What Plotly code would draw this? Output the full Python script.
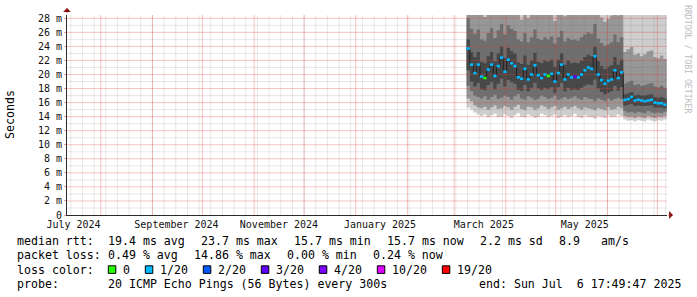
import plotly.graph_objects as go
import pandas as pd

# ---------------- data ----------------
end_time = "2025-07-06 17:49:47"
span_days = 360
y_max = 28.47

step_start = "2025-03-08 12:00"
step_freq = "2D"

median_ms = [23.7, 21.4, 20.2, 21.4, 19.7, 19.5, 20.7, 21.4, 19.8, 21.2,
             22.4, 20.4, 22.1, 21.6, 21.2, 19.6, 19.4, 20.8, 19.3, 20.0,
             21.3, 19.9, 19.5, 20.0, 19.8, 20.1, 19.0, 20.2, 21.4, 19.3,
             20.0, 19.6, 19.7, 19.6, 20.0, 20.6, 21.0, 20.8, 22.6, 20.0,
             19.2, 18.7, 19.1, 19.3, 20.6, 19.5, 20.3,
             16.4, 16.5, 16.8, 16.3, 16.4, 16.3, 16.2, 16.3, 16.4, 16.0, 15.9, 15.9, 15.7]
loss_count = [1, 1, 1, 1, 1, 0, 1, 1, 1, 1,
              1, 1, 1, 1, 1, 1, 1, 1, 1, 1,
              1, 1, 1, 1, 0, 1, 1, 1, 1, 1,
              1, 1, 3, 1, 1, 1, 1, 1, 1, 1,
              1, 1, 1, 1, 1, 1, 1,
              1, 1, 1, 1, 1, 1, 1, 1, 1, 1, 1, 1, 1]
ping01_ms = [15.3, 15.0, 14.6, 14.3, 14.1, 14.3, 13.9, 14.2, 14.4, 13.9,
             14.0, 14.3, 14.1, 13.8, 14.2, 14.5, 14.0, 13.9, 14.3, 14.1,
             13.8, 14.0, 14.4, 14.2, 13.9, 14.1, 14.3, 13.8, 14.0, 14.2,
             13.9, 14.1, 14.4, 14.0, 13.8, 14.2, 14.0, 13.9, 13.7, 14.1,
             14.0, 13.8, 14.2, 13.9, 14.0, 14.3, 14.1,
             13.6, 13.4, 13.5, 13.3, 13.5, 13.4, 13.3, 13.6, 13.4, 13.3, 13.5, 13.4, 13.6]
ping03_ms = [16.6, 16.2, 15.6, 15.3, 15.2, 15.4, 15.0, 15.3, 15.6, 15.1,
             15.2, 15.5, 15.3, 15.0, 15.4, 15.7, 15.1, 15.0, 15.4, 15.3,
             15.0, 15.2, 15.6, 15.4, 15.1, 15.3, 15.5, 15.0, 15.2, 15.4,
             15.1, 15.3, 15.5, 15.2, 15.0, 15.3, 15.2, 15.1, 14.9, 15.2,
             15.1, 14.9, 15.3, 15.0, 15.1, 15.4, 15.2,
             14.1, 13.9, 14.0, 13.8, 14.0, 13.9, 13.8, 14.1, 13.9, 13.8, 14.0, 13.9, 14.1]
ping06_ms = [18.4, 17.6, 17.0, 16.8, 16.6, 16.9, 16.4, 16.8, 17.1, 16.5,
             16.7, 17.0, 16.8, 16.4, 16.9, 17.2, 16.6, 16.4, 16.9, 16.7,
             16.4, 16.6, 17.0, 16.8, 16.5, 16.7, 17.0, 16.4, 16.6, 16.8,
             16.5, 16.7, 16.9, 16.6, 16.4, 16.8, 16.6, 16.5, 16.2, 16.6,
             16.4, 16.2, 16.6, 16.3, 16.5, 16.7, 16.5,
             14.8, 14.6, 14.7, 14.5, 14.7, 14.6, 14.5, 14.8, 14.6, 14.5, 14.6, 14.5, 14.7]
ping09_ms = [20.6, 19.0, 18.3, 18.8, 17.9, 17.8, 18.5, 18.9, 17.9, 18.7,
             19.4, 18.3, 19.2, 18.9, 18.7, 17.8, 17.7, 18.5, 17.6, 18.1,
             18.8, 18.0, 17.8, 18.1, 17.9, 18.2, 17.4, 18.2, 18.8, 17.6,
             18.1, 17.8, 17.9, 17.8, 18.1, 18.4, 18.6, 18.5, 19.3, 18.0,
             17.5, 17.2, 17.4, 17.6, 18.4, 17.7, 18.2,
             15.6, 15.7, 15.8, 15.5, 15.6, 15.5, 15.5, 15.6, 15.6, 15.3, 15.3, 15.3, 15.2]
ping12_ms = [25.0, 23.2, 22.5, 23.2, 21.8, 21.6, 22.6, 23.2, 21.9, 23.0,
             24.0, 22.4, 23.8, 23.3, 23.0, 21.7, 21.5, 22.7, 21.4, 22.0,
             23.1, 21.8, 21.6, 22.0, 21.8, 22.1, 21.1, 22.1, 23.0, 21.4,
             22.0, 21.6, 21.7, 21.6, 22.0, 22.5, 22.8, 22.6, 24.0, 21.9,
             21.2, 20.8, 21.1, 21.3, 22.5, 21.4, 22.1,
             17.2, 17.3, 17.5, 17.0, 17.1, 17.0, 17.0, 17.1, 17.2, 16.8, 16.7, 16.8, 16.6]
ping15_ms = [28.0, 26.5, 25.8, 26.4, 25.0, 24.8, 25.9, 26.6, 25.2, 26.3,
             27.2, 25.7, 27.0, 26.5, 26.2, 25.0, 24.7, 25.9, 24.6, 25.3,
             26.4, 25.1, 24.9, 25.3, 25.0, 25.4, 24.4, 25.3, 26.2, 24.7,
             25.2, 24.9, 25.0, 24.8, 25.3, 25.7, 26.0, 25.8, 27.2, 25.1,
             24.5, 24.1, 24.3, 24.6, 25.7, 24.6, 25.3,
             18.7, 18.9, 19.1, 18.5, 18.6, 18.4, 18.5, 18.7, 18.8, 18.3, 18.2, 18.4, 18.1]
ping18_ms = [34.0, 31.5, 30.2, 31.0, 29.0, 28.2, 30.4, 31.6, 29.3, 31.0,
             32.5, 30.0, 32.0, 31.2, 30.8, 28.9, 27.8, 30.3, 28.0, 29.5,
             31.2, 29.1, 28.6, 29.5, 28.9, 29.7, 27.6, 29.4, 31.0, 28.3,
             29.4, 28.8, 29.0, 28.5, 29.5, 30.1, 30.6, 30.2, 32.3, 29.2,
             28.1, 27.5, 27.9, 28.4, 30.2, 28.4, 29.6,
             23.2, 23.6, 23.9, 22.8, 23.0, 22.6, 22.9, 23.3, 23.4, 22.5, 22.3, 22.7, 22.2]
ping20_ms = [48, 44, 42, 43, 40, 39, 42, 44, 41, 43,
             45, 42, 44, 43, 43, 40, 39, 42, 39, 41,
             43, 41, 40, 41, 40, 41, 38, 41, 43, 39,
             41, 40, 40, 40, 41, 42, 42, 42, 45, 41,
             39, 38, 39, 39, 42, 39, 41,
             33, 34, 35, 32, 33, 32, 33, 33, 34, 32, 31, 32, 31]

loss_levels = [0, 1, 2, 3, 4, 10, 19]
loss_labels = ["0", "1/20", "2/20", "3/20", "4/20", "10/20", "19/20"]
loss_colors = ["#26ff00", "#00b8ff", "#0059ff", "#5e00ff", "#7e00ff", "#dd00ff", "#ff0000"]

month_labels = ["July 2024", "September 2024", "November 2024",
                "January 2025", "March 2025", "May 2025"]
month_label_at = ["2024-07-15 15:00", "2024-09-15 10:00", "2024-11-15 22:00",
                  "2025-01-15 13:00", "2025-03-18 20:00", "2025-05-18 10:00"]
y_tick_vals = list(range(0, 29, 2))
y_tick_text = ["0"] + [f"{v} m" for v in y_tick_vals[1:]]

# grid: weekly (Sunday) minor lines, monthly major lines, 1 ms minor / 2 ms major
week_grid_start = "2024-07-14"
month_grid_start = "2024-08-01"

stats_line1 = [("median rtt:", 16), ("19.4 ms avg", 107.3), ("23.7 ms max", 200),
               ("15.7 ms min", 293.3), ("15.7 ms now", 386), ("2.2 ms sd", 479.3),
               ("8.9", 558.3), ("am/s", 600)]
stats_line2 = [("packet loss:", 16), ("0.49 % avg", 107.3), ("14.86 % max", 193.3),
               ("0.00 % min", 286.3), ("0.24 % now", 372.3)]
probe_line = [("probe:", 16), ("20 ICMP Echo Pings (56 Bytes) every 300s", 107.3),
              ("end: Sun Jul\u00a0\u00a06 17:49:47 2025", 478.3)]

# ---------------- geometry / style ----------------
W, H = 697, 297
ML, MR, MT, MB = 67, 30, 15, 82
PW, PH = W - ML - MR, H - MT - MB
MONO = "DejaVu Sans Mono"
LEG_SIZE = 11.6
AX_SIZE = 10
SMOKE = ["#cecece", "#979797", "#6f6f6f", "#474747"]
GRID_MAJ = "rgba(230,60,60,0.30)"
GRID_MIN = "rgba(100,100,100,0.15)"
AXIS_COL = "#2a2a2a"
CLEAR = "rgba(0,0,0,0)"


def px_x(px):
    return (px - ML) / PW


def px_y(py):
    return (MT + PH - py) / PH


t_end = pd.Timestamp(end_time)
t_start = t_end - pd.Timedelta(days=span_days)
n = len(median_ms)
edges = pd.date_range(pd.Timestamp(step_start), periods=n + 1, freq=step_freq)
xs = list(edges)


def ext(a):
    return list(a) + [a[-1]]


fig = go.Figure()

# smoke bands (subplot xy)
for lo, hi, col in [(ping01_ms, ping20_ms, SMOKE[0]), (ping03_ms, ping18_ms, SMOKE[1]),
                    (ping06_ms, ping15_ms, SMOKE[2]), (ping09_ms, ping12_ms, SMOKE[3])]:
    fig.add_trace(go.Scatter(x=xs, y=ext(lo), mode="lines", line=dict(width=0, shape="hv"),
                             hoverinfo="skip", showlegend=False, xaxis="x", yaxis="y"))
    fig.add_trace(go.Scatter(x=xs, y=ext(hi), mode="lines", line=dict(width=0, shape="hv"),
                             fill="tonexty", fillcolor=col, hoverinfo="skip",
                             showlegend=False, xaxis="x", yaxis="y"))


# grid lines drawn as traces over the smoke (subplot x2y2)
def vlines(dates):
    gx, gy = [], []
    for d in dates:
        gx += [d, d, None]
        gy += [0, y_max, None]
    return gx, gy


def hlines(vals):
    gx, gy = [], []
    for v in vals:
        gx += [t_start, t_end, None]
        gy += [v, v, None]
    return gx, gy


week_dates = pd.date_range(week_grid_start, t_end, freq="7D")
month_dates = pd.date_range(month_grid_start, t_end, freq="MS")
grid_sets = [
    (vlines(week_dates), GRID_MIN),
    (hlines([v for v in range(1, 29) if v % 2 == 1]), GRID_MIN),
    (vlines(month_dates), GRID_MAJ),
    (hlines([v for v in range(2, 29, 2)]), GRID_MAJ),
]
for (gx, gy), col in grid_sets:
    fig.add_trace(go.Scatter(x=gx, y=gy, mode="lines",
                             line=dict(color=col, width=1),
                             hoverinfo="skip", showlegend=False, xaxis="x2", yaxis="y2"))

# median (subplot x2y2, above the grid)
fig.add_trace(go.Scatter(x=xs, y=ext(median_ms), mode="lines",
                         line=dict(color="#202020", width=1, shape="hv"),
                         hoverinfo="skip", showlegend=False, xaxis="x2", yaxis="y2"))


def bucket(c):
    for lv in loss_levels:
        if c <= lv:
            return lv
    return loss_levels[-1]


for lv, col in zip(loss_levels, loss_colors):
    sx, sy = [], []
    for i in range(n):
        if bucket(loss_count[i]) == lv:
            sx += [edges[i], edges[i + 1], None]
            sy += [median_ms[i], median_ms[i], None]
    if sx:
        fig.add_trace(go.Scatter(x=sx, y=sy, mode="lines", line=dict(color=col, width=2.6),
                                 hoverinfo="skip", showlegend=False,
                                 xaxis="x2", yaxis="y2"))

xr = [t_start, t_end]
yr = [0, y_max]
hidden = dict(showgrid=False, zeroline=False, showticklabels=False)

fig.update_layout(
    width=W, height=H, margin=dict(l=ML, r=MR, t=MT, b=MB, autoexpand=False),
    paper_bgcolor="white", plot_bgcolor=CLEAR, showlegend=False,
    xaxis=dict(domain=[0, 1], anchor="y", type="date", range=xr, showgrid=False,
               zeroline=False, showline=True, linecolor=AXIS_COL, linewidth=1,
               tickmode="array", tickvals=month_label_at, ticktext=month_labels,
               ticks="", tickfont=dict(family=MONO, size=AX_SIZE, color="#111")),
    yaxis=dict(domain=[0, 1], anchor="x", range=yr, showgrid=False, zeroline=False,
               showline=True, linecolor=AXIS_COL, linewidth=1,
               tickmode="array", tickvals=y_tick_vals, ticktext=y_tick_text,
               ticks="outside", ticklen=2, tickcolor="rgba(230,150,150,0.9)",
               tickfont=dict(family=MONO, size=AX_SIZE, color="#111")),
    xaxis2=dict(domain=[0, 1], anchor="y2", type="date", range=xr, **hidden),
    yaxis2=dict(domain=[0, 1], anchor="x2", range=yr, **hidden),
)

anns = []


def text_ann(txt, px, py, size=LEG_SIZE, color="#000", anchor="left", angle=0):
    anns.append(dict(text=txt, x=px_x(px), y=px_y(py), xref="paper", yref="paper",
                     xanchor=anchor, yanchor="middle", showarrow=False, textangle=angle,
                     font=dict(family=MONO, size=size, color=color), borderpad=0))


line_y = [241.2, 255.4, 269.6, 283.8]
for txt, px in stats_line1:
    text_ann(txt, px, line_y[0])
for txt, px in stats_line2:
    text_ann(txt, px, line_y[1])
text_ann("loss color:", 16, line_y[2])
for txt, px in probe_line:
    text_ann(txt, px, line_y[3])

shapes = []
bx = 108.3
for lab, col in zip(loss_labels, loss_colors):
    shapes.append(dict(type="rect", xref="paper", yref="paper",
                       x0=px_x(bx), x1=px_x(bx + 7.5), y0=px_y(line_y[2] + 3.8),
                       y1=px_y(line_y[2] - 3.8), fillcolor=col,
                       line=dict(color="#000", width=1)))
    text_ann(lab, bx + 14, line_y[2])
    bx += 14 + 7 * len(lab) + 16

text_ann("Seconds", 10, 115, anchor="center", angle=-90)
text_ann("RRDTOOL / TOBI OETIKER", 688, 59, size=8.2, color="#bdbdbd",
         anchor="center", angle=90)

# axis arrows
anns.append(dict(x=px_x(673), y=px_y(215), xref="paper", yref="paper", text="",
                 showarrow=True, arrowhead=1, arrowsize=1.3, arrowwidth=1,
                 arrowcolor="#8b1010", ax=-6, ay=0))
anns.append(dict(x=px_x(67), y=px_y(8), xref="paper", yref="paper", text="",
                 showarrow=True, arrowhead=1, arrowsize=1.3, arrowwidth=1,
                 arrowcolor="#8b1010", ax=0, ay=6))

fig.update_layout(annotations=anns, shapes=shapes)
fig.write_html("out.html")
